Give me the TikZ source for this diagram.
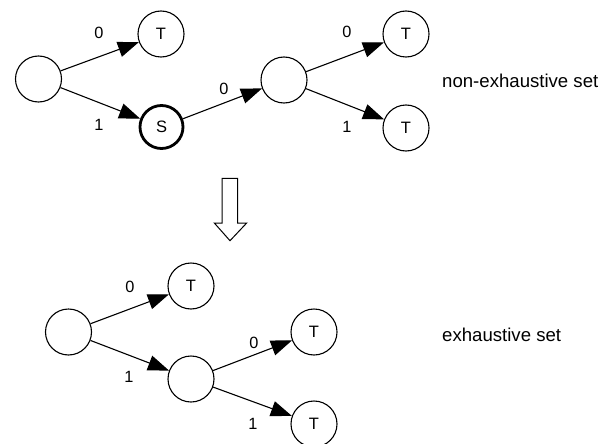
\documentclass[tikz,border=0pt]{standalone}
\usepackage{fontspec}
\setmainfont{Liberation Sans}
\usetikzlibrary{arrows.meta}
\begin{document}
\begin{tikzpicture}[x=1pt,y=-1pt,
  state/.style={circle,draw,line width=1.1pt,minimum size=46pt,inner sep=0pt,font=\fontsize{16.5}{18}\selectfont},
  start/.style={state,line width=2.8pt,minimum size=43pt},
  edge/.style={line width=1.1pt,-{Triangle[length=21pt,width=15.5pt]}},
  lbl/.style={font=\fontsize{16.3}{18}\selectfont,inner sep=0pt},
  side/.style={font=\fontsize{18.6}{20}\selectfont,anchor=west,inner sep=0pt}]
\useasboundingbox (0,0) rectangle (610,444);

% non-exhaustive set
\node[state] (a)  at (38.5,79) {};
\node[state] (at) at (161,34) {T};
\node[start] (s)  at (161.5,127) {S};
\node[state] (b)  at (284,80) {};
\node[state] (bt) at (406,34) {T};
\node[state] (bu) at (406,128) {T};
\draw[edge] (a) -- (at);
\draw[edge] (a) -- (s);
\draw[edge] (s) -- (b);
\draw[edge] (b) -- (bt);
\draw[edge] (b) -- (bu);
\node[lbl] (l1) at (99,33) {0};
\node[lbl] (l2) at (99,125) {1};
\node[lbl] (l3) at (224,89) {0};
\node[lbl] (l4) at (347,32) {0};
\node[lbl] (l5) at (347,127) {1};
\node[side] (t1) at (442,81) {non-exhaustive set};

% transformation arrow
\draw[line width=1pt,line join=miter]
  (222,178.3) -- (237.7,178.3) -- (237.7,223) -- (246.7,223) -- (230,240.7)
  -- (214.3,223) -- (222,223) -- cycle;

% exhaustive set
\node[state] (c)  at (68.5,332) {};
\node[state] (ct) at (191,286) {T};
\node[state] (d)  at (191,379) {};
\node[state] (dt) at (314,332) {T};
\node[state] (du) at (314,424) {T};
\draw[edge] (c) -- (ct);
\draw[edge] (c) -- (d);
\draw[edge] (d) -- (dt);
\draw[edge] (d) -- (du);
\node[lbl] (m1) at (130,287) {0};
\node[lbl] (m2) at (129,377) {1};
\node[lbl] (m3) at (254,343) {0};
\node[lbl] (m4) at (253,424) {1};
\node[side] (t2) at (442,335) {exhaustive set};
\end{tikzpicture}
\end{document}
